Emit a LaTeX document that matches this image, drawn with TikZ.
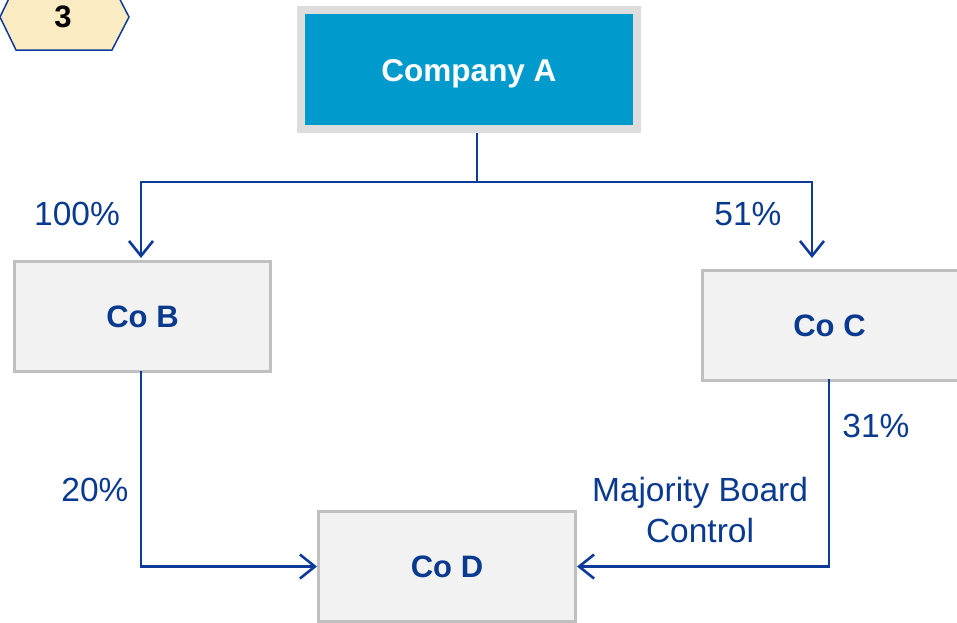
\documentclass[tikz,border=0pt]{standalone}
\usepackage{fontspec}
\setmainfont{Liberation Sans}
\usetikzlibrary{arrows.meta}
\definecolor{lineblue}{HTML}{0E3A99}
\definecolor{txtblue}{HTML}{0A3A8F}
\definecolor{boxfill}{HTML}{F2F2F2}
\definecolor{boxline}{HTML}{C0C0C0}
\definecolor{abox}{HTML}{009BCC}
\definecolor{aframe}{HTML}{DDDDDD}
\definecolor{hexfill}{HTML}{FAEBC3}
\tikzset{
  cobox/.style={draw=boxline, line width=3pt, fill=boxfill, inner sep=0pt, anchor=north west},
  cotext/.style={text=txtblue, font=\fontsize{31}{34}\selectfont\bfseries},
  conn/.style={draw=lineblue, line width=2.8pt, -{Straight Barb[length=15pt,width=24pt,line width=2.6pt]}},
  plain/.style={draw=lineblue, line width=2.8pt},
  lbl/.style={text=txtblue, font=\fontsize{33.5}{41}\selectfont, inner sep=0pt}
}
\begin{document}
\begin{tikzpicture}[x=1pt,y=-1pt]
\useasboundingbox (0,0) rectangle (957,622);
% hexagon badge
\draw[draw=lineblue, line width=1.5pt, fill=hexfill] (0,17) -- (16,-16) -- (112,-16) -- (129,17) -- (112,50) -- (16,50) -- cycle;
\node[font=\fontsize{31}{34}\selectfont\bfseries, text=black] (badge) at (63,17) {3};
% Company A
\node[draw=aframe, line width=8pt, fill=abox, minimum width=336pt, minimum height=119pt, inner sep=0pt] (A) at (469,69.5) {};
\node[text=white, font=\fontsize{31.5}{34}\selectfont\bfseries, yshift=-4pt] (At) at (A.center) {Company A};
% other boxes
\node[cobox, minimum width=256pt, minimum height=110pt] (B) at (13,260) {};
\node[cotext] (Bt) at (B.center) {Co B};
\node[cobox, minimum width=258pt, minimum height=110pt] (C) at (701,269) {};
\node[cotext, xshift=-2pt] (Ct) at (C.center) {Co C};
\node[cobox, minimum width=257pt, minimum height=110pt] (D) at (317,510) {};
\node[cotext] (Dt) at (D.center) {Co D};
% connectors
\coordinate (stem) at (477,133);
\coordinate (junc) at (477,182);
\coordinate (Bin) at (141,258);
\coordinate (Cin) at (812,258);
\coordinate (Bout) at (141,371);
\coordinate (Cout) at (829,379);
\draw[plain] (stem) -- (junc);
\draw[conn] (junc) -| (Bin);
\draw[conn] (junc) -| (Cin);
\draw[conn] (Bout) |- (D.west);
\draw[conn] (Cout) |- (D.east);
% labels
\node[lbl] (l100) at (77,214) {100\%};
\node[lbl] (l51) at (748,214) {51\%};
\node[lbl] (l20) at (95,490) {20\%};
\node[lbl] (l31) at (876,426) {31\%};
\node[lbl, align=center] (lmaj) at (700,510) {Majority Board\\Control};
\end{tikzpicture}
\end{document}
